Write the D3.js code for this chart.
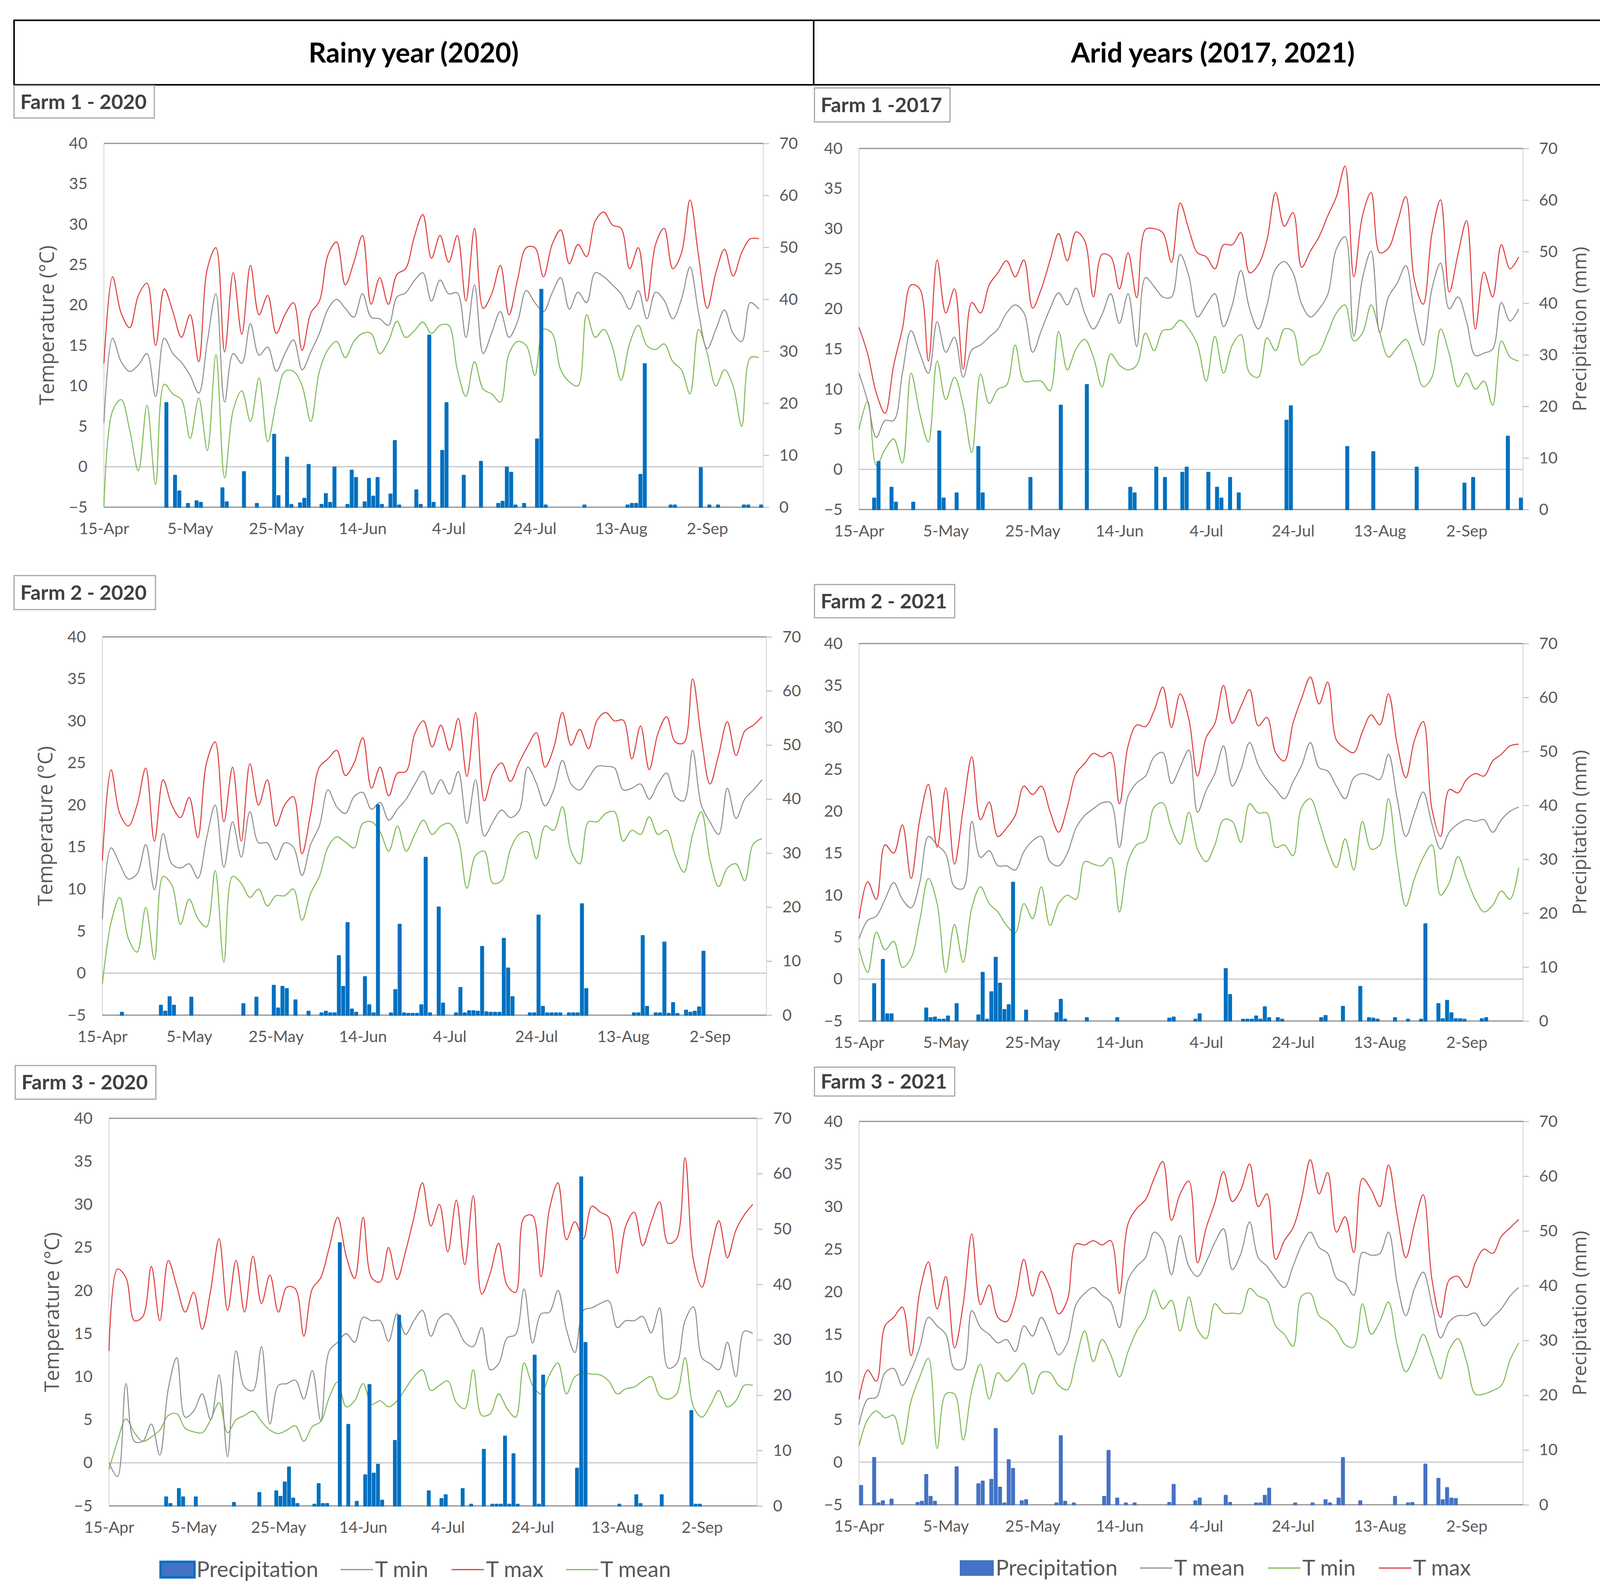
<!DOCTYPE html>
<html>
<head>
<meta charset="utf-8">
<script src="https://cdn.jsdelivr.net/npm/d3@7"></script>
<style>
  body { margin: 0; background: #fff; }
  svg { display: block; font-family: Lato, "Open Sans", sans-serif; }
</style>
</head>
<body>
<svg id="chart" width="4170" height="4082"></svg>
<script>
// x categories: day 0 = 15-Apr, temperatures read every 2 days
const tickDays = [0, 20, 40, 60, 80, 100, 120, 140];
const tickLabels = ["15-Apr", "5-May", "25-May", "14-Jun", "4-Jul", "24-Jul", "13-Aug", "2-Sep"];
const tempTicks = [-5, 0, 5, 10, 15, 20, 25, 30, 35, 40];
const rainTicks = [0, 10, 20, 30, 40, 50, 60, 70];
const stepDays = 2;
const lastDay = 153;

// Farm 1 - 2020
const f1_2020_tMax = [12.8,23.5,19,17.2,21.2,22.7,15,22,19.2,16,18.8,13,24.5,27.1,14.2,24,16.4,24.9,18.8,21.2,16.5,18.8,20.3,14.4,19,20.5,26.2,27.8,22.5,25.3,28.6,20.1,23.4,20.1,23.8,24.5,28.4,31.2,25.8,28.6,25.3,28.6,20.5,29.5,19.6,21.4,24.9,18.8,23.2,27.1,27.1,23.5,27.5,29.3,25.1,27.5,26,30.4,31.5,29.9,29.5,24.5,27.1,20.5,27.5,29.5,24.5,26.4,33,26,19.6,24,26.9,23.6,26.5,28.2,28.2];
const f1_2020_tMean = [5.4,15.9,13,11.8,12.6,14,8.7,15.9,14,12.9,11.3,9.1,15.5,21.4,8,14,12.8,17.7,13.8,14.8,11.8,14,15.7,12,14.2,16.5,19.5,20.7,19.6,18.5,21.4,18.5,18.3,17.5,21,21.5,23,24,20.5,23.1,21.4,21.5,16,22.5,14,16.6,19.2,16,18,21.8,20.3,19.2,21.5,23.4,19.5,21.6,20.3,24,23.5,22.5,21.4,19.5,21.8,18.3,21.6,20.6,18.3,20.7,24.7,19,14.6,17,19.4,16.5,15.5,20.3,19.5];
const f1_2020_tMin = [-5,6.9,8.3,4.5,-0.5,7.6,-2.2,10.2,9,8.3,3.5,8.5,2,13.9,-1.4,7,9.4,5.6,11,3.1,8,11.8,11.8,10,5.6,11.8,14.5,15.5,13.5,15.5,16.5,16.5,14,15.5,18,16,16.8,17.9,16.5,17.5,17.5,12,8.7,13,9.6,9,8,14,15.5,15,11.3,17,16.5,12,10.5,10,18.8,16,17,14.8,10.7,15.3,17.5,15,14.5,15.2,13,12,9,17,14,10,12,10,5,13.5,13.5];
const f1_2020_rainDay = [14,16,17,19,21,22,27,28,32,35,39,40,42,43,45,46,47,50,51,52,53,56,57,58,60,61,62,63,64,66,67,68,72,73,75,76,78,79,83,87,91,92,93,94,95,97,100,101,102,111,121,122,123,124,125,131,132,138,140,142,148,149,152];
const f1_2020_rainMm = [20.1,6.1,3.1,0.7,1.2,0.9,3.7,1,6.8,0.7,14,2.2,9.6,0.5,0.8,1.7,8.2,0.5,2.6,0.9,7.7,0.5,7.1,5.7,1,5.5,2.1,5.7,0.5,2.5,12.8,0.4,3.3,0.5,33.1,0.9,10.9,20.1,6.1,8.8,0.7,1.1,7.7,6.7,0.4,0.7,13.1,41.9,0.4,0.4,0.4,0.7,0.7,6.3,27.6,0.4,0.4,7.6,0.4,0.4,0.4,0.4,0.4];

// Farm 1 - 2017
const f1_2017_tMax = [17.7,14.4,9.5,7,13,17.5,23,22.5,13.5,26.1,19.5,22.5,12.5,20.8,19.5,23,24.5,26,24,26.1,20.1,22.5,26,29.4,26,29.6,28.5,21.5,26.8,26.5,22.5,27,21.4,29.9,30,29.5,25.8,33.2,29.9,27,26.5,25,28,28,29.5,24.5,25.5,28.6,34.5,30.3,32,25.2,27.2,29,31.6,34,37.8,24,31.6,34.5,27,27.6,30.7,34,23.5,20.6,29.4,33.6,22.1,26.8,31,17.5,24.6,21.5,28,25,26.5];
const f1_2017_tMean = [12,8.5,4,6.1,6.1,12,17.3,14.5,12,18.4,14.6,16.5,11.5,14.9,15.5,16.5,17.5,19.5,20.5,19.5,14.6,17.3,20,22,20.5,22.6,19.5,17.5,19.3,21.9,18.2,21.9,15.3,23.9,22.8,21.5,21.5,26.8,24.1,19,20.5,21.9,17.8,20.5,24.8,20,17.5,20.5,25,25.9,24.5,20.6,19,20,21.8,27.5,29,16.6,23.8,27.2,17,21.5,23.2,25.4,19.5,15.5,22.5,25.7,20,21.5,18.4,14.2,14.5,15,20.8,18.5,20];
const f1_2017_tMin = [5,8.5,0.5,2.5,3.8,0.8,12,7,3.4,13.5,8.7,11.5,8,2.1,11.9,8.2,10,10.5,15.5,11,11,11,9.8,17.2,12.4,15,16.2,14,10.3,14.4,13,12.4,13,17,14.8,17.3,17.5,18.6,17.5,15.5,11,16.6,12,15.5,16.8,12,11.5,16.4,14.8,17.5,17.2,13,14,14.6,17,19.5,20.5,16,17,20.5,17,14,15.2,16.2,13.5,10.3,11.5,17.5,14.4,10.3,12,10,11,8,16,14,13.5];
const f1_2017_rainDay = [3,4,7,8,12,18,19,22,27,28,39,46,52,62,63,68,70,74,75,80,82,83,85,87,98,99,112,118,128,139,141,149,152];
const f1_2017_rainMm = [2.2,9.3,4.3,1.4,1.4,15.2,2.2,3.2,12.2,3.2,6.2,20.2,24.2,4.3,3.2,8.2,6.2,7.2,8.2,7.2,4.3,2.2,6.2,3.2,17.3,20.1,12.2,11.2,8.2,5.1,6.2,14.2,2.2];

// Farm 2 - 2020
const f2_2020_tMax = [13.4,24.2,19,17.5,20,24.4,15.7,23,20,18.5,20.9,16.1,25,27.5,18,24.5,15.7,24.9,20,23,17.5,20,21,14.2,19,24.5,25.5,26.5,23.5,25,28,22,24.5,21.1,23.8,24,28.5,30,26.9,29.5,26.5,30.3,23.4,31,20.5,23.8,25,22.8,25,27,28.6,24.5,26.8,31,27.1,29,26.7,30.1,31,30,30.1,25.5,29.4,24.2,28.5,30.5,27.5,27.4,35,28,22.5,26,29.9,25.9,28.8,29.5,30.5];
const f2_2020_tMean = [6.4,14.9,13,11.2,11.8,15.3,9.9,16.6,13,12.5,13,11.3,16,20,12.6,18,13.8,19.2,15.5,15.5,13.5,15.5,15,11.6,15.3,17.5,21.8,19.8,19,21,21.5,19.5,20.3,18.2,19.5,20.7,22.5,24,21.3,23,21.3,24,17.8,23,16.3,18,19.4,18.5,19.3,24.5,22.6,19.9,21.8,25.3,22.5,21.8,23.2,24.6,24.6,24.4,21.8,22,22.5,20.7,22.5,23.8,21,20.5,26.5,20,18,16.5,22,18.4,20.7,21.8,23];
const f2_2020_tMin = [-1.3,6,9,4.1,2.5,7.8,1.6,11.5,10.5,5.8,8.8,6.5,5.5,12.2,1.3,11.5,10.7,9,10,8,9.2,9.2,10,6.3,9.5,11.5,15,16.2,15.6,14.9,17.8,18,16.8,14.5,17.5,14.5,16.5,18.2,16.5,17.5,17.8,16,10.1,14,14.5,10.7,11,14.7,16.5,16.8,13.6,17.5,17,19.8,14.5,13,18,18,19,19.2,15.7,17,16.5,18.6,16.5,17,14,12,16.5,19.2,13.5,10.3,12.5,13,11,15.4,16];
const f2_2020_rainDay = [4,13,14,15,16,20,32,35,39,40,41,42,44,47,50,51,52,53,54,55,56,57,58,60,61,62,63,66,67,68,69,70,71,72,73,74,75,77,78,81,82,83,84,85,86,87,88,89,90,91,92,93,94,98,99,100,101,102,103,104,105,107,108,109,110,111,122,123,124,125,127,128,129,130,131,132,134,135,136,137,138];
const f2_2020_rainMm = [0.5,1.8,0.7,3.4,1.8,3.3,2.1,3.3,5.5,1.3,5.3,4.9,2.8,0.7,0.4,0.7,0.4,0.4,11,5.3,17.1,1.1,0.5,7.1,1.9,0.4,38.9,0.4,4.7,16.8,0.4,0.3,0.3,0.3,1.9,29.2,0.4,20,2.2,0.4,5.1,0.4,0.8,0.8,0.7,12.7,0.6,0.5,0.5,0.5,14.2,8.7,3.4,0.4,0.4,18.5,1.6,0.4,0.4,0.4,0.4,0.4,0.4,0.4,20.6,4.9,0.4,0.4,14.7,1.6,0.4,0.4,13.5,0.3,2.3,0.2,0.9,0.5,0.7,1.5,11.8];

// Farm 2 - 2021
const f2_2021_tMax = [7.2,11.6,9.5,16,15,18.4,12,19,23.2,15.7,22.8,13.7,20.3,26.5,19,21.1,17,18,19.5,23,22,23,20,17.5,20.5,24.5,25.7,26.9,26.5,27,20.9,27.8,30.3,30.1,32,34.8,30,34,31,24.2,28.8,30.5,35,30.5,32.5,34.5,30.2,31.2,27,26,30.5,33.5,36,32.8,35.4,28.5,27.5,27,29.5,31.5,30.3,34,28,24,28.5,30.7,20.3,17,22.6,22.2,23.8,24.5,24.2,26,26.8,27.8,28];
const f2_2021_tMean = [4.8,7,7.5,9.5,11.5,9.5,8.5,11.5,17,16,14.9,11,10.8,18.8,14.5,15.3,13.5,13.5,13,15.2,16.5,17,14,13.5,15,18,19.5,20.3,21,21,15.7,21.8,23.4,24.2,26.5,27,23.3,25.3,27.3,19.9,22.5,24.5,27.8,23,25,28.2,25.5,23.8,22.6,21.5,23.5,25.5,28.2,25.2,24.8,23,21.5,24,24.5,24.2,23.8,26.8,21.5,17,19.8,22.3,18.5,15.5,17.5,18.5,19,18.8,19,17.5,19,20,20.5];
const f2_2021_tMin = [3.7,0.8,5.6,3.5,4.5,1.4,2.5,7,12,9,0.8,6.5,2,8.5,11,9,8,6.4,5.5,9,7.2,11,6.4,9,10,9.5,14,13.7,13.5,14.5,8,14,16,16.5,20.5,21,18,16.1,19.9,15.5,14,16,19,18.8,16.3,20.9,19.8,19.8,15.7,16,14.7,20.5,21.5,18.8,15.5,13.3,16.7,13,18.8,15.5,16,21.5,14,8.7,12,14.5,16,10,11.5,14.6,12,9.5,8,8.8,10.5,9.5,13.3];
const f2_2021_rainDay = [3,5,6,7,15,16,17,18,19,20,22,27,28,29,30,31,32,33,34,35,38,45,46,47,52,59,71,72,77,78,84,85,88,89,90,91,92,93,94,96,97,106,107,111,115,117,118,119,123,126,129,130,133,134,135,136,137,138,139,143,144];
const f2_2021_rainMm = [6.9,11.4,1.3,1.3,2.4,0.6,0.7,0.3,0.3,0.9,3.2,1.1,9,0.3,5.4,11.8,7,2.1,3,25.7,2,1.5,4,0.3,0.6,0.6,0.5,0.7,0.3,1.3,9.7,4.9,0.3,0.3,0.3,0.9,0.3,2.6,0.6,0.6,0.3,0.6,1,2.7,6.4,0.6,0.5,0.3,0.6,0.3,0.3,18,3.2,0.4,3.8,1.5,0.4,0.4,0.3,0.4,0.6];

// Farm 3 - 2020
const f3_2020_tMax = [13,22.5,21.5,16.5,17,22.8,16.5,23.5,20.5,17.5,19.8,15.5,20,26,17.7,23.5,17.5,24,18.5,21.8,17.5,20.4,20.2,14.7,20.2,21.5,25,28.5,24,21.4,28.5,21.5,21,25,21.3,24.5,28.5,32.5,27.5,30,24.5,30.5,23,31,19.6,22,25.5,20.6,19.8,28.5,28.7,21.6,29.5,32.5,25.9,28,26,29.8,29.1,28.5,22,27.5,29.1,25.2,28,30.3,25.5,26,35.4,23.5,20.4,24.5,28.1,23.8,27,28.8,30];
const f3_2020_tMean = [0,-1.6,9.2,2.5,2.5,4.5,0.9,8.6,12.2,5.3,6,8,5,10.2,0.7,13,8.8,8.4,13.5,4.5,9,9.2,9.6,7.4,10.7,4.9,13,14,15,14,16.9,16.5,16.5,14.1,17.3,14.9,16.5,17.7,14.7,16.8,17.3,16,14,13.5,15.7,10.8,11.5,14.5,14.9,20.2,13.9,17.3,17.5,20,15.5,12.8,17.7,18,18.5,18.8,15.7,16.5,16.5,17,15.1,18,11,11.5,16.5,18.1,12.2,11.5,10.8,14,10,15.3,15];
const f3_2020_tMin = [-0.8,2.5,5.1,3.5,2.5,3,3.8,5.5,5.7,4,3.6,3.5,5,7,3.5,5,5.5,6,4.8,3.8,3.4,3.8,4.3,2.5,4.2,4.8,7.6,9.4,6.5,7.2,9.2,6.8,7.2,6.5,7.2,8.6,10,10.8,8.4,9,9.5,7,6.3,10.8,5.5,5.7,8,6.3,5.3,11.6,9,8,10.2,11.6,8,10,10.4,10.3,10.2,9.5,8,8.6,8.8,9.5,10,7.8,7.4,8,12.2,6.5,5.3,6.7,8.4,6.5,7.2,9,9];
const f3_2020_rainDay = [13,14,16,17,20,29,35,39,40,41,42,43,44,48,49,50,51,54,56,58,60,61,62,63,64,67,68,75,78,79,83,85,88,90,91,92,93,94,95,96,100,101,102,110,111,112,120,124,125,130,137,138,139];
const f3_2020_rainMm = [1.6,0.4,3.1,1.6,1.6,0.6,2.4,2.7,1.7,4.3,7,1.4,0.4,0.2,4,0.4,0.4,47.5,14.7,0.8,5.6,21.9,5.9,7.5,1,11.8,34.4,2.7,1.3,2,3.1,0.2,10.2,0.2,0.2,0.2,12.6,0.2,9.4,0.2,27.2,0.2,23.6,6.8,59.4,29.5,0.2,2,0.4,2,17.2,0.2,0.2];

// Farm 3 - 2021
const f3_2021_tMax = [7.4,10.8,9.5,16,17,18.2,12.5,20,23.5,18,21.8,13.4,18.5,26.8,18.5,20.8,17,16.5,19,23.8,19.5,22.4,20.5,17.4,19,25.6,25.5,26,25.5,26,19.8,28,29.8,30.8,33.3,35.3,28.4,31.5,33,23.4,27.5,30.5,34.1,30.6,32,35,30,31.5,23.8,26,27.5,31,35.5,31.5,34,27,28.8,24.6,33.3,32,30,34.9,29,24,28,31.4,21.5,17,21.4,21.8,20.5,23.4,25,24.5,26.5,27.5,28.5];
const f3_2021_tMean = [4.4,7.4,7.6,10.5,11,9,10.8,13.5,17,16,15,11,11,17.8,15.8,15,14,14.4,13,16,14.8,17,15,12.6,14,18.5,19.8,20.5,19.6,18.8,15.8,21.4,23,24,27,26,22,26.6,23,21.8,23.5,25.8,27.4,22.6,24.5,28.2,24,23,21.6,20.5,23,25.5,27,25.2,24.5,21.6,21,19.6,24.6,24.3,24.5,27,21,17.2,20.4,22.3,18.5,14.6,16.5,17.2,17.2,17.5,16,17,18,19.5,20.5];
const f3_2021_tMin = [1.9,5,6,5.2,5.5,2.1,7.2,10,12.2,1.6,8,8,2.6,8.5,11.5,7.4,10.5,9.5,10.5,11.6,8,10.5,10.5,9,8.5,12,15.4,11.8,14.4,12.6,10,13,15.4,17,20.2,18,19,15.4,19.4,15.6,14.5,18.6,17.5,17.5,17.5,20.4,19.5,19,16,15,13.6,19.5,19.8,17.2,16.5,15.5,13.8,13.5,18.6,15,16.5,18.8,13.8,10.6,12.5,15,12.5,9.8,13.2,14.5,11.8,8,8,8.4,9,12,14];
const f3_2021_rainDay = [0,3,4,5,7,13,14,15,16,17,22,27,28,30,31,32,33,34,35,37,38,45,46,47,49,56,57,59,61,63,71,72,77,78,84,85,91,92,93,94,100,104,107,108,110,111,115,123,126,127,130,133,134,135,136,137];
const f3_2021_rainMm = [3.5,8.6,0.3,0.7,1,0.4,0.6,5.5,1.5,0.6,6.9,3.8,4.3,4.6,13.9,3.2,0.3,8.2,6.6,0.7,0.9,0.3,12.6,0.6,0.3,1.5,9.9,1.2,0.3,0.3,0.4,3.7,0.7,1.2,1.7,0.4,0.3,0.3,1.7,3,0.3,0.3,0.9,0.3,1.2,8.6,0.7,1.5,0.3,0.4,7.4,4.8,0.9,3.1,1.2,1.1];

const colMax = "#df3c3c", colMean = "#8e8e8e", colMin = "#7cba55";

const panels = [
  { title: "Farm 1 - 2020", box: [36, 219, 395, 302], plot: [266, 367, 1954, 1298], side: "left",
    tMax: f1_2020_tMax, tMean: f1_2020_tMean, tMin: f1_2020_tMin, rainDay: f1_2020_rainDay, rainMm: f1_2020_rainMm, bar: "#0070C0" },
  { title: "Farm 1 -2017", box: [2085, 225, 2432, 312], plot: [2199, 380, 3899, 1304], side: "right",
    tMax: f1_2017_tMax, tMean: f1_2017_tMean, tMin: f1_2017_tMin, rainDay: f1_2017_rainDay, rainMm: f1_2017_rainMm, bar: "#0070C0" },
  { title: "Farm 2 - 2020", box: [36, 1473, 398, 1560], plot: [262, 1630, 1962, 2598], side: "left",
    tMax: f2_2020_tMax, tMean: f2_2020_tMean, tMin: f2_2020_tMin, rainDay: f2_2020_rainDay, rainMm: f2_2020_rainMm, bar: "#0070C0" },
  { title: "Farm 2 - 2021", box: [2085, 1496, 2444, 1581], plot: [2199, 1647, 3899, 2613], side: "right",
    tMax: f2_2021_tMax, tMean: f2_2021_tMean, tMin: f2_2021_tMin, rainDay: f2_2021_rainDay, rainMm: f2_2021_rainMm, bar: "#0070C0" },
  { title: "Farm 3 - 2020", box: [39, 2727, 399, 2813], plot: [279, 2862, 1938, 3854], side: "left",
    tMax: f3_2020_tMax, tMean: f3_2020_tMean, tMin: f3_2020_tMin, rainDay: f3_2020_rainDay, rainMm: f3_2020_rainMm, bar: "#0070C0" },
  { title: "Farm 3 - 2021", box: [2085, 2731, 2444, 2805], plot: [2199, 2870, 3899, 3851], side: "right",
    tMax: f3_2021_tMax, tMean: f3_2021_tMean, tMin: f3_2021_tMin, rainDay: f3_2021_rainDay, rainMm: f3_2021_rainMm, bar: "#4472C4" }
];

const svg = d3.select("#chart");
svg.append("rect").attr("width", 4170).attr("height", 4082).attr("fill", "#fff");

// header table
const head = svg.append("g");
head.append("rect").attr("x", 36).attr("y", 52).attr("width", 4092).attr("height", 165)
  .attr("fill", "none").attr("stroke", "#000").attr("stroke-width", 4);
head.append("line").attr("x1", 2083).attr("x2", 2083).attr("y1", 52).attr("y2", 217)
  .attr("stroke", "#000").attr("stroke-width", 4);
[["Rainy year (2020)", 1059], ["Arid years (2017, 2021)", 3105]].forEach(([t, cx]) => {
  head.append("text").attr("x", cx).attr("y", 160).attr("text-anchor", "middle")
    .attr("font-size", 70).attr("font-weight", 700).attr("fill", "#000").text(t);
});

panels.forEach(p => {
  const [L, T, R, B] = p.plot;
  const g = svg.append("g");
  const x = d3.scaleLinear().domain([0, lastDay]).range([L, R]);
  const yT = d3.scaleLinear().domain([-5, 40]).range([B, T]);
  const yP = d3.scaleLinear().domain([0, 70]).range([B, T]);

  // title box
  const [bx0, by0, bx1, by1] = p.box;
  g.append("rect").attr("x", bx0).attr("y", by0).attr("width", bx1 - bx0).attr("height", by1 - by0)
    .attr("fill", "#fff").attr("stroke", "#a6a6a6").attr("stroke-width", 3);
  g.append("text").attr("x", bx0 + 16).attr("y", (by0 + by1) / 2 + 18)
    .attr("font-size", 52).attr("font-weight", 700).attr("fill", "#404040").text(p.title);

  // frame lines
  g.append("line").attr("x1", L).attr("x2", L).attr("y1", T).attr("y2", B).attr("stroke", "#d9d9d9").attr("stroke-width", 2.5);
  g.append("line").attr("x1", R).attr("x2", R).attr("y1", T).attr("y2", B).attr("stroke", "#d9d9d9").attr("stroke-width", 2.5);
  g.append("line").attr("x1", L).attr("x2", R).attr("y1", yT(40)).attr("y2", yT(40)).attr("stroke", "#8f8f8f").attr("stroke-width", 3);
  g.append("line").attr("x1", L).attr("x2", R).attr("y1", yT(0)).attr("y2", yT(0)).attr("stroke", "#c8c8c8").attr("stroke-width", 3);
  g.append("line").attr("x1", L).attr("x2", R).attr("y1", yT(-5)).attr("y2", yT(-5)).attr("stroke", "#8f8f8f").attr("stroke-width", 3);

  // axes
  const ax = g.append("g").attr("transform", `translate(0,${B})`)
    .call(d3.axisBottom(x).tickValues(tickDays).tickFormat((d, i) => tickLabels[i]).tickSize(0).tickPadding(40));
  const ay = g.append("g").attr("transform", `translate(${L},0)`)
    .call(d3.axisLeft(yT).tickValues(tempTicks).tickSize(0).tickPadding(42));
  const ap = g.append("g").attr("transform", `translate(${R},0)`)
    .call(d3.axisRight(yP).tickValues(rainTicks).tickSize(15).tickPadding(26));
  [ax, ay, ap].forEach(a => {
    a.select(".domain").remove();
    a.selectAll("text").attr("font-size", 41).attr("fill", "#595959").attr("font-family", "Lato, sans-serif");
  });
  ap.selectAll(".tick line").attr("stroke", "#bfbfbf").attr("stroke-width", 2.5);

  // axis titles
  if (p.side === "left") {
    g.append("text").attr("transform", `translate(${L - 128},${(T + B) / 2}) rotate(-90)`)
      .attr("text-anchor", "middle").attr("font-family", "'Open Sans', sans-serif")
      .attr("font-size", 51).attr("fill", "#595959").text("Temperature (°C)");
  } else {
    g.append("text").attr("transform", `translate(${R + 162},${(T + B) / 2}) rotate(-90)`)
      .attr("text-anchor", "middle").attr("font-family", "'Open Sans', sans-serif")
      .attr("font-size", 49).attr("fill", "#595959").text("Precipitation (mm)");
  }

  // temperature lines
  const line = d3.line().x((d, i) => x(i * stepDays)).y(d => yT(d)).curve(d3.curveCatmullRom.alpha(0.5));
  [[p.tMin, colMin], [p.tMean, colMean], [p.tMax, colMax]].forEach(([vals, c]) => {
    g.append("path").datum(vals).attr("d", line).attr("fill", "none")
      .attr("stroke", c).attr("stroke-width", 2.6).attr("stroke-linejoin", "round");
  });

  // precipitation bars (secondary axis, on top)
  const day = x(1) - x(0);
  const bw = day - 4;
  g.selectAll("rect.bar").data(p.rainDay.map((d, i) => ({ d, v: p.rainMm[i] })))
    .join("rect").attr("class", "bar")
    .attr("x", r => x(r.d + 0.5) - bw / 2).attr("width", bw)
    .attr("y", r => Math.min(yP(r.v), yP(0) - 4)).attr("height", r => Math.max(4, yP(0) - yP(r.v)))
    .attr("fill", p.bar).attr("stroke", p.bar).attr("stroke-width", 3).attr("stroke-linejoin", "round");
});

// legends
function legend(items, y, swatch) {
  const g = svg.append("g");
  items.forEach(it => {
    if (it.type === "bar") {
      g.append("rect").attr("x", it.x).attr("y", y - 20).attr("width", 87).attr("height", 40)
        .attr("fill", "#4472C4").attr("stroke", swatch).attr("stroke-width", swatch === "none" ? 0 : 6);
      g.append("text").attr("x", it.x + 92).attr("y", y + 19).attr("font-size", 56).attr("fill", "#595959").text(it.label);
    } else {
      g.append("line").attr("x1", it.x).attr("x2", it.x + 83).attr("y1", y).attr("y2", y)
        .attr("stroke", it.color).attr("stroke-width", 3);
      g.append("text").attr("x", it.x + 88).attr("y", y + 19).attr("font-size", 56).attr("fill", "#595959").text(it.label);
    }
  });
}
legend([
  { type: "bar", x: 411, label: "Precipitation" },
  { x: 872, color: colMean, label: "T min" },
  { x: 1156, color: colMax, label: "T max" },
  { x: 1449, color: colMin, label: "T mean" }
], 4017, "#0070C0");
legend([
  { type: "bar", x: 2457, label: "Precipitation" },
  { x: 2918, color: colMean, label: "T mean" },
  { x: 3246, color: colMin, label: "T min" },
  { x: 3530, color: colMax, label: "T max" }
], 4013, "none");
</script>
</body>
</html>
